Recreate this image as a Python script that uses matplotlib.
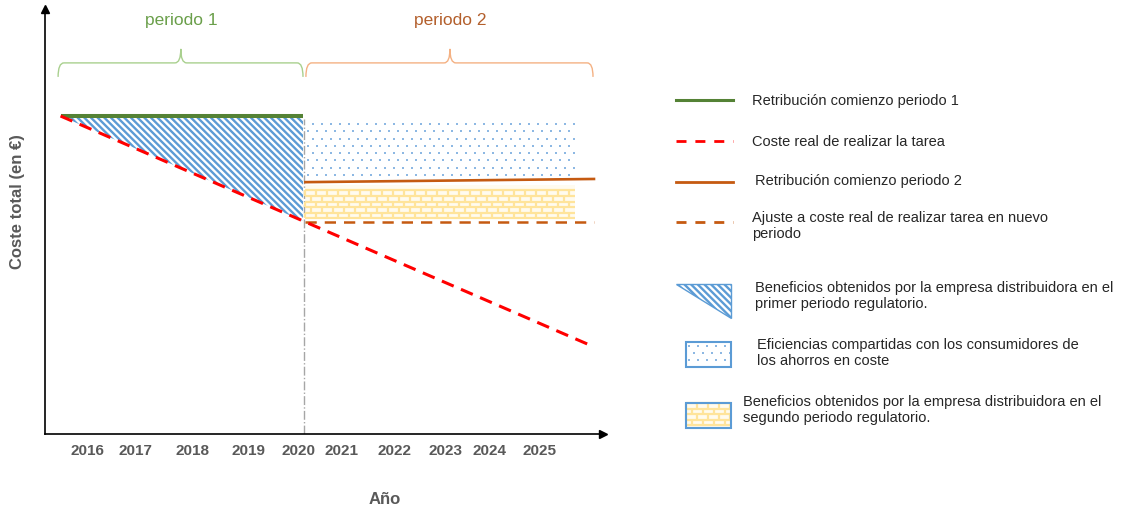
import numpy as np
import matplotlib
matplotlib.use('Agg')
import matplotlib.pyplot as plt
from matplotlib.path import Path
from matplotlib.patches import PathPatch, Polygon, Rectangle
from matplotlib.collections import LineCollection

plt.rcParams['font.family'] = ['Liberation Sans', 'DejaVu Sans']
plt.rcParams['hatch.linewidth'] = 1.7

# ==================== datos ====================
anios_p1 = [2015, 2020]
retrib_p1 = [100, 100]
anios_coste = [2015, 2026]
coste_real = [100, 27.4]
anios_p2 = [2020.05, 2026]
retrib_p2 = [79.2, 80.2]
ajuste_p2 = [66.8, 66.8]
fin_zonas = 2025.6
eficiencias = [80.3, 99]      # inferior, superior
beneficios_p2 = [67.8, 78.3]  # inferior, superior

tick_labels = ['2016', '2017', '2018', '2019', '2020', '2021', '2022', '2023', '2024', '2025']
tick_pos = [2015.55, 2016.55, 2017.72, 2018.87, 2019.9, 2020.8, 2021.88, 2022.93, 2023.85, 2024.88]

VERDE = '#548235'
ROJO = '#ff0000'
NARANJA = '#c55a11'
AZUL = '#5b9bd5'
GRIS = '#595959'
TXT = '#262626'
RAYADO = '\\' * 5

# escala de pixeles por unidad (para patrones)
PX_X = 48.5
PX_Y = 3.18


def puntos(ax, x0, x1, y0, y1, sx, sy, size=3.5):
    xs, ys = [], []
    for i, y in enumerate(np.arange(y0 + sy / 2, y1, sy)):
        off = sx / 2 if i % 2 else 0
        for x in np.arange(x0 + sx / 3 + off, x1, sx):
            xs.append(x)
            ys.append(y)
    ax.scatter(xs, ys, s=size, marker='s', color='#8db8e3', linewidths=0, zorder=2)


def ladrillos(ax, x0, x1, y0, y1, w, h, lw=1.6):
    segs = []
    filas = np.arange(y0, y1 + h * 0.01, h)
    for y in filas:
        segs.append([(x0, y), (x1, y)])
    for i in range(len(filas) - 1):
        off = w / 2 if i % 2 else 0
        for x in np.arange(x0 + off, x1, w):
            segs.append([(x, filas[i]), (x, filas[i + 1])])
    ax.add_patch(Rectangle((x0, y0), x1 - x0, y1 - y0, facecolor='#fffbef', edgecolor='none', zorder=1))
    ax.add_collection(LineCollection(segs, colors='#ffe49b', linewidths=lw, zorder=2))


def llave(ax, x0, x1, xm, yb, ye, yt, r, color):
    verts = [(x0, ye), (x0, yb), (x0 + r, yb), (xm - r, yb), (xm, yb), (xm, yt),
             (xm, yb), (xm + r, yb), (x1 - r, yb), (x1, yb), (x1, ye)]
    codes = [Path.MOVETO, Path.CURVE3, Path.CURVE3, Path.LINETO, Path.CURVE3, Path.CURVE3,
             Path.CURVE3, Path.CURVE3, Path.LINETO, Path.CURVE3, Path.CURVE3]
    ax.add_patch(PathPatch(Path(verts, codes), fill=False, edgecolor=color, lw=1.0, clip_on=False))


fig = plt.figure(figsize=(11.23, 5.10), dpi=100)
ax = fig.add_axes([45 / 1123, 75 / 510, 558 / 1123, 425 / 510])
ax.set_xlim(2014.68, 2026.186)
ax.set_ylim(0, 133.65)

# ==================== zonas ====================
coste_2020 = np.interp(anios_p1[1], anios_coste, coste_real)
ax.fill_between(anios_p1, retrib_p1, [coste_real[0], coste_2020], facecolor='white',
                edgecolor=AZUL, hatch=RAYADO, linewidth=0, zorder=1)

puntos(ax, anios_p2[0], fin_zonas, eficiencias[0], eficiencias[1], 9 / PX_X, 7.3 / PX_Y)
ladrillos(ax, anios_p2[0], fin_zonas, beneficios_p2[0], beneficios_p2[1], 11 / PX_X, 5.6 / PX_Y)

# ==================== lineas ====================
ax.axvline(2020.02, ymin=0, ymax=99 / 133.65, color='#a6a6a6', lw=1.0, ls='-.', zorder=1)
ax.plot(anios_p1, retrib_p1, color=VERDE, lw=2.9, solid_capstyle='butt', zorder=4)
ax.plot(anios_coste, coste_real, color=ROJO, lw=2.2, dashes=(4.2, 2.6), zorder=5)
ax.plot(anios_p2, retrib_p2, color=NARANJA, lw=1.9, zorder=4)
ax.plot(anios_p2, ajuste_p2, color=NARANJA, lw=1.8, dashes=(4.5, 3.2), zorder=4)

# ==================== llaves ====================
llave(ax, 2014.95, 2020.0, 2017.48, 116.7, 112.3, 121.1, 0.12, '#a9d08e')
llave(ax, 2020.06, 2025.98, 2023.03, 116.7, 112.3, 121.1, 0.12, '#f4b183')
ax.text(2017.5, 130.5, 'periodo 1', color='#6a9f4a', fontsize=12.5, ha='center', va='center')
ax.text(2023.03, 130.5, 'periodo 2', color='#b35f2c', fontsize=12.5, ha='center', va='center')

# ==================== ejes ====================
for s in ['top', 'right']:
    ax.spines[s].set_visible(False)
for s in ['left', 'bottom']:
    ax.spines[s].set_linewidth(1.2)
    ax.spines[s].set_color('black')
ax.plot(1, 0, '>k', ms=6, transform=ax.transAxes, clip_on=False)
ax.plot(0, 1, '^k', ms=6, transform=ax.transAxes, clip_on=False)
ax.set_yticks([])
ax.set_xticks(tick_pos)
ax.set_xticklabels(tick_labels, fontsize=11, fontweight='bold', color=GRIS)
ax.tick_params(axis='x', length=0, pad=6.5)
ax.patch.set_alpha(0)

fig.text(18 / 1123, 1 - 202 / 510, 'Coste total (en €)', rotation=90, fontsize=12,
         fontweight='bold', color=GRIS, ha='center', va='center')
fig.text(385 / 1123, 1 - 500 / 510, 'Año', fontsize=12, fontweight='bold', color=GRIS,
         ha='center', va='center')

# ==================== leyenda ====================
lg = fig.add_axes([0, 0, 1, 1])
lg.set_xlim(0, 1123)
lg.set_ylim(510, 0)
lg.axis('off')

lg.plot([676, 733], [101, 101], color=VERDE, lw=2.2)
lg.plot([676, 733], [142, 142], color=ROJO, lw=2.0, dashes=(3.6, 3.2))
lg.plot([676, 733], [183, 183], color=NARANJA, lw=2.0)
lg.plot([676, 733], [223, 223], color=NARANJA, lw=2.0, dashes=(3.6, 3.2))

lg.add_patch(Polygon([(676, 285), (731, 285), (731, 319)], closed=True, facecolor='white',
                     edgecolor=AZUL, hatch=RAYADO, lw=1.0))
puntos(lg, 686, 731, 343, 368, 9, 7.3)
lg.add_patch(Rectangle((686, 343), 45, 25, fill=False, edgecolor=AZUL, lw=1.5, zorder=3))
ladrillos(lg, 686, 731, 404, 429, 11, 5.6)
lg.add_patch(Rectangle((686, 404), 45, 25, fill=False, edgecolor=AZUL, lw=1.5, zorder=3))

fs = 10.5
lg.text(752, 101, 'Retribución comienzo periodo 1', fontsize=fs, color=TXT, va='center')
lg.text(752, 142, 'Coste real de realizar la tarea', fontsize=fs, color=TXT, va='center')
lg.text(755, 181, 'Retribución comienzo periodo 2', fontsize=fs, color=TXT, va='center')
lg.text(752, 226, 'Ajuste a coste real de realizar tarea en nuevo\nperiodo', fontsize=fs,
        color=TXT, va='center', linespacing=1.25)
lg.text(755, 296, 'Beneficios obtenidos por la empresa distribuidora en el\nprimer periodo regulatorio.',
        fontsize=fs, color=TXT, va='center', linespacing=1.25)
lg.text(757, 353, 'Eficiencias compartidas con los consumidores de\nlos ahorros en coste',
        fontsize=fs, color=TXT, va='center', linespacing=1.25)
lg.text(743, 410, 'Beneficios obtenidos por la empresa distribuidora en el\nsegundo periodo regulatorio.',
        fontsize=fs, color=TXT, va='center', linespacing=1.25)

fig.savefig('out.png', dpi=100)
